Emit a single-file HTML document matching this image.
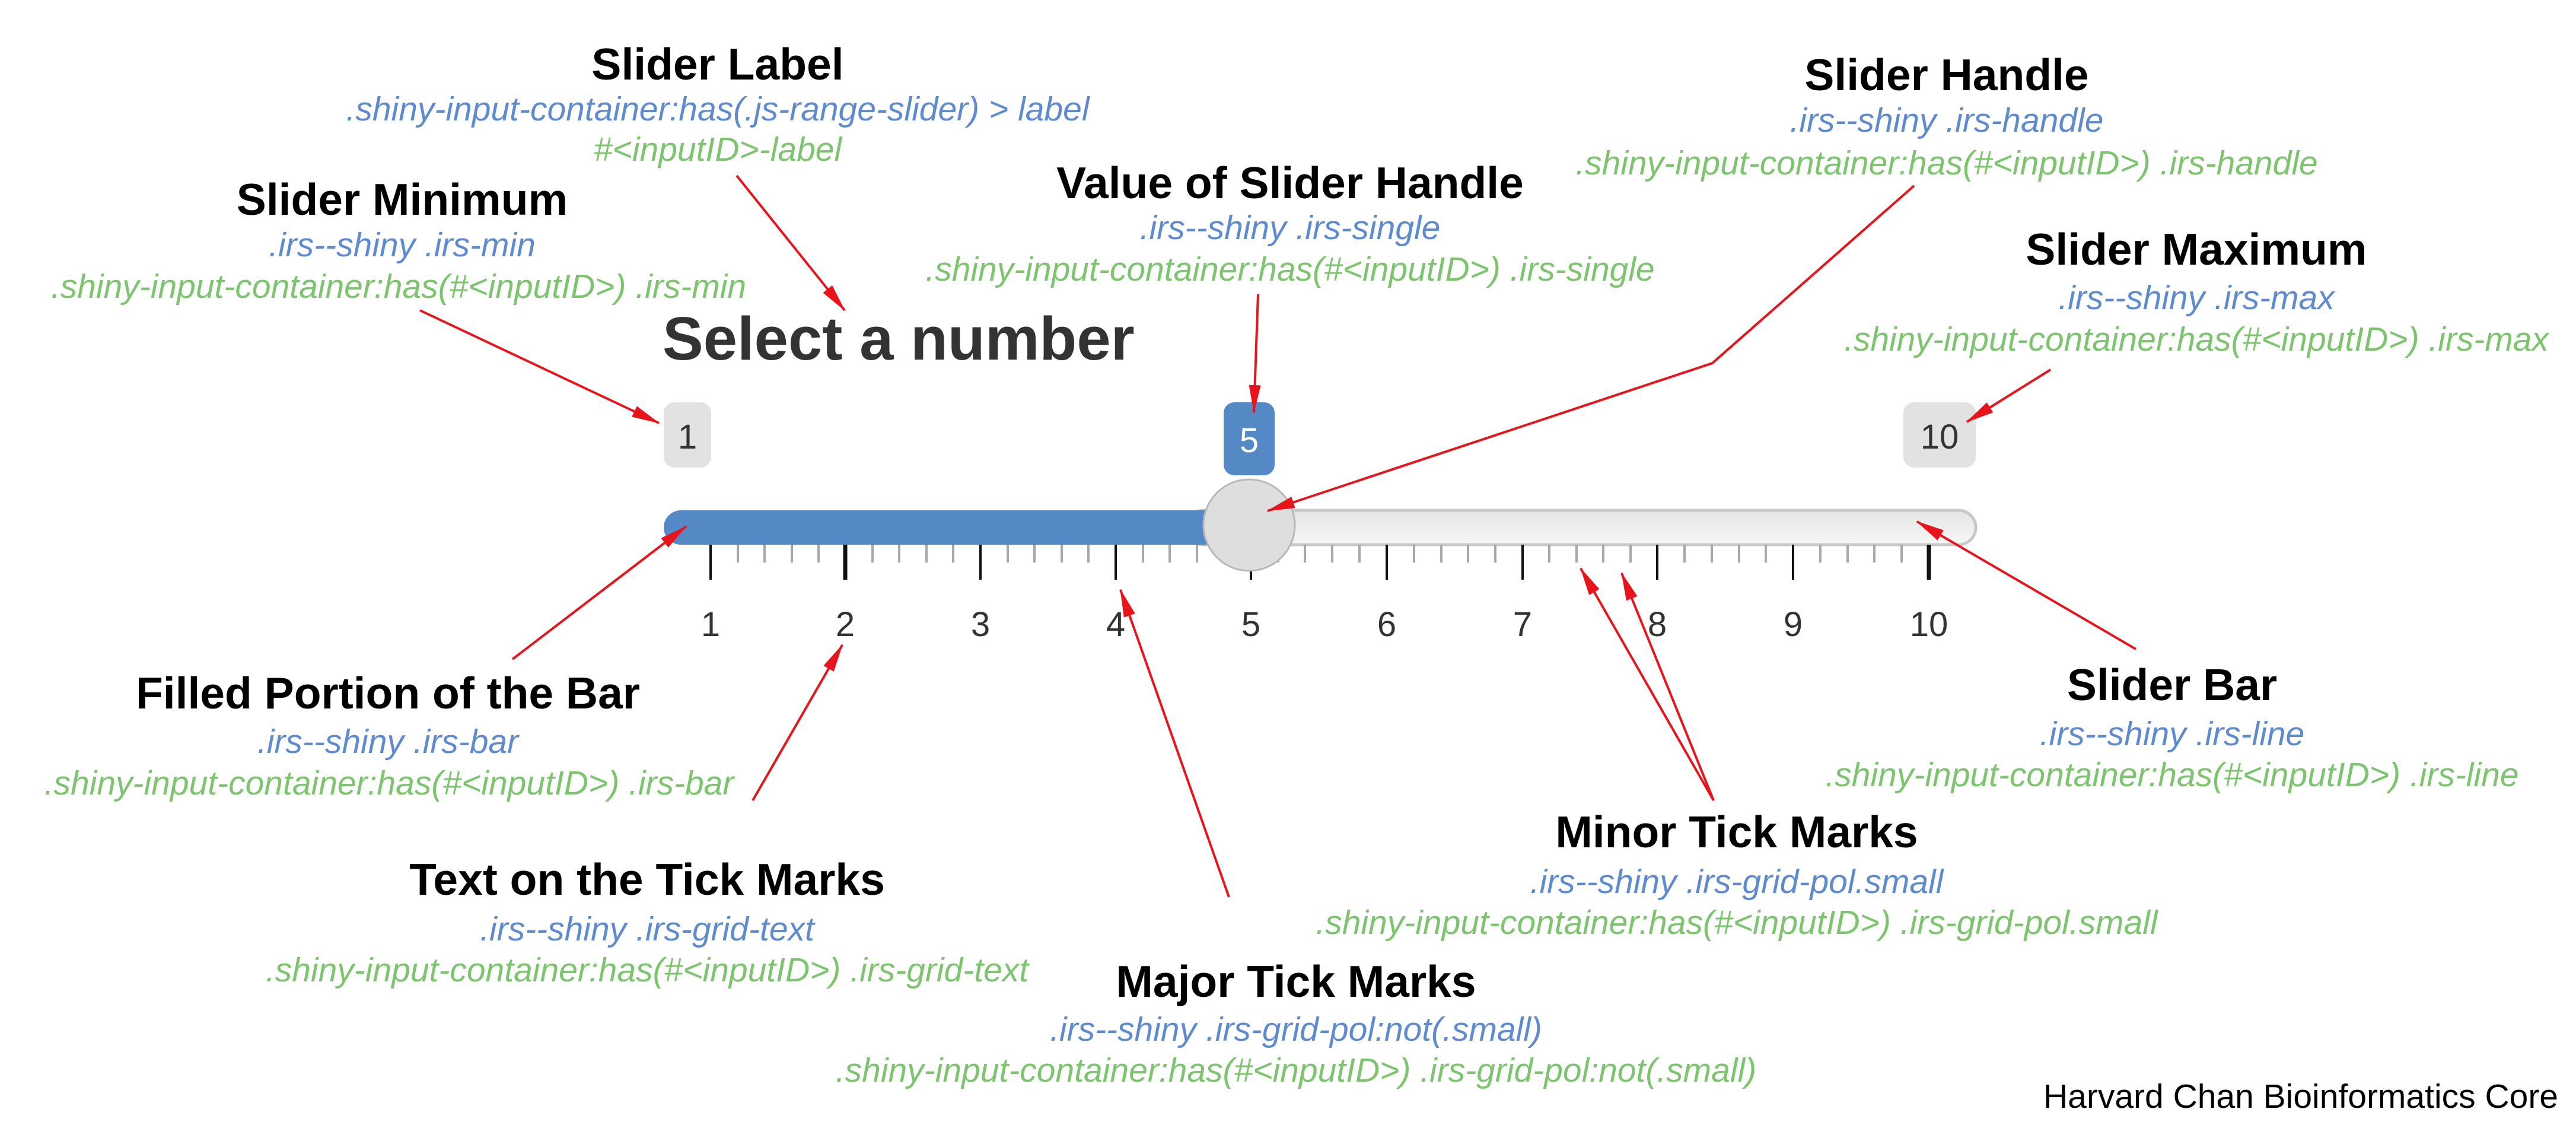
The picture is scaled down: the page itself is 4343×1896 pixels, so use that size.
<!DOCTYPE html>
<html><head><meta charset="utf-8"><style>
html,body{margin:0;padding:0;background:#fff;}
svg{display:block;}
.t{font-family:"Liberation Sans",Arial,sans-serif;font-weight:bold;font-size:75px;fill:#000;text-anchor:middle;}
.b{font-family:"Liberation Sans",Arial,sans-serif;font-style:italic;font-size:57px;fill:#5e8bcf;text-anchor:middle;}
.g{font-family:"Liberation Sans",Arial,sans-serif;font-style:italic;font-size:57px;fill:#7cc46d;text-anchor:middle;}
.n{font-family:"Liberation Sans",Arial,sans-serif;font-size:58px;fill:#333;text-anchor:middle;}
.a{stroke:#e8141c;stroke-width:4;fill:none;}
</style></head><body>
<svg width="4343" height="1896" viewBox="0 0 4343 1896" xmlns="http://www.w3.org/2000/svg">
<defs>
<marker id="ah" markerWidth="48" markerHeight="20" refX="46" refY="10" orient="auto" markerUnits="userSpaceOnUse">
<path d="M0,0 L48,10 L0,20 Z" fill="#e8141c"/>
</marker>
<linearGradient id="lg" x1="0" y1="0" x2="0" y2="1">
<stop offset="0" stop-color="#e4e4e4"/><stop offset="1" stop-color="#f7f7f7"/>
</linearGradient>
</defs>

<!-- Slider -->
<text x="1117" y="606" font-family="Liberation Sans,Arial,sans-serif" font-weight="bold" font-size="103" fill="#333">Select a number</text>

<rect x="1119" y="678" width="80" height="110" rx="18" fill="#e2e2e2"/>
<text class="n" x="1159" y="756">1</text>
<rect x="3209" y="678" width="122" height="110" rx="18" fill="#e2e2e2"/>
<text class="n" x="3270" y="756">10</text>
<rect x="2063" y="678" width="86" height="123" rx="18" fill="#5489c6"/>
<text class="n" x="2106" y="762" style="fill:#fff">5</text>

<rect x="2000" y="860" width="1331" height="58" rx="29" fill="url(#lg)" stroke="#c8c8c8" stroke-width="5"/>
<path d="M1148,860 L2040,860 L2040,918 L1148,918 A29,29 0 0 1 1148,860 Z" fill="#5489c6"/>

<!-- ticks -->
<g stroke="#a8a8a8" stroke-width="4">
<line x1="1244" y1="918" x2="1244" y2="948"/><line x1="1289" y1="918" x2="1289" y2="948"/><line x1="1335" y1="918" x2="1335" y2="948"/><line x1="1380" y1="918" x2="1380" y2="948"/>
<line x1="1471" y1="918" x2="1471" y2="948"/><line x1="1516" y1="918" x2="1516" y2="948"/><line x1="1562" y1="918" x2="1562" y2="948"/><line x1="1607" y1="918" x2="1607" y2="948"/>
<line x1="1699" y1="918" x2="1699" y2="948"/><line x1="1744" y1="918" x2="1744" y2="948"/><line x1="1790" y1="918" x2="1790" y2="948"/><line x1="1835" y1="918" x2="1835" y2="948"/>
<line x1="1927" y1="918" x2="1927" y2="948"/><line x1="1972" y1="918" x2="1972" y2="948"/><line x1="2018" y1="918" x2="2018" y2="948"/><line x1="2063" y1="918" x2="2063" y2="948"/>
<line x1="2155" y1="918" x2="2155" y2="948"/><line x1="2200" y1="918" x2="2200" y2="948"/><line x1="2246" y1="918" x2="2246" y2="948"/><line x1="2292" y1="918" x2="2292" y2="948"/>
<line x1="2384" y1="918" x2="2384" y2="948"/><line x1="2430" y1="918" x2="2430" y2="948"/><line x1="2475" y1="918" x2="2475" y2="948"/><line x1="2521" y1="918" x2="2521" y2="948"/>
<line x1="2612" y1="918" x2="2612" y2="948"/><line x1="2658" y1="918" x2="2658" y2="948"/><line x1="2703" y1="918" x2="2703" y2="948"/><line x1="2749" y1="918" x2="2749" y2="948"/>
<line x1="2840" y1="918" x2="2840" y2="948"/><line x1="2886" y1="918" x2="2886" y2="948"/><line x1="2932" y1="918" x2="2932" y2="948"/><line x1="2977" y1="918" x2="2977" y2="948"/>
<line x1="3069" y1="918" x2="3069" y2="948"/><line x1="3115" y1="918" x2="3115" y2="948"/><line x1="3160" y1="918" x2="3160" y2="948"/><line x1="3206" y1="918" x2="3206" y2="948"/>
</g>
<g stroke="#111" stroke-width="4">
<line x1="1198" y1="918" x2="1198" y2="977"/><line x1="1425" y1="918" x2="1425" y2="977" stroke-width="7"/><line x1="1653" y1="918" x2="1653" y2="977"/><line x1="1881" y1="918" x2="1881" y2="977"/><line x1="2109" y1="918" x2="2109" y2="977"/><line x1="2338" y1="918" x2="2338" y2="977"/><line x1="2567" y1="918" x2="2567" y2="977"/><line x1="2794" y1="918" x2="2794" y2="977"/><line x1="3023" y1="918" x2="3023" y2="977"/><line x1="3252" y1="918" x2="3252" y2="977" stroke-width="7"/>
</g>
<circle cx="2106" cy="885" r="77" fill="#dedede" stroke="#b8b8b8" stroke-width="3"/>

<g>
<text class="n" x="1198" y="1072">1</text><text class="n" x="1425" y="1072">2</text><text class="n" x="1653" y="1072">3</text><text class="n" x="1881" y="1072">4</text><text class="n" x="2109" y="1072">5</text><text class="n" x="2338" y="1072">6</text><text class="n" x="2567" y="1072">7</text><text class="n" x="2794" y="1072">8</text><text class="n" x="3023" y="1072">9</text><text class="n" x="3252" y="1072">10</text>
</g>

<!-- Labels -->
<text class="t" x="1210" y="134">Slider Label</text>
<text class="b" x="1210" y="203">.shiny-input-container:has(.js-range-slider) &gt; label</text>
<text class="g" x="1210" y="271">#&lt;inputID&gt;-label</text>

<text class="t" x="678" y="362">Slider Minimum</text>
<text class="b" x="678" y="432">.irs--shiny .irs-min</text>
<text class="g" x="672" y="502">.shiny-input-container:has(#&lt;inputID&gt;) .irs-min</text>

<text class="t" x="2175" y="334">Value of Slider Handle</text>
<text class="b" x="2175" y="403">.irs--shiny .irs-single</text>
<text class="g" x="2175" y="473">.shiny-input-container:has(#&lt;inputID&gt;) .irs-single</text>

<text class="t" x="3282" y="152">Slider Handle</text>
<text class="b" x="3282" y="222">.irs--shiny .irs-handle</text>
<text class="g" x="3282" y="294">.shiny-input-container:has(#&lt;inputID&gt;) .irs-handle</text>

<text class="t" x="3703" y="446">Slider Maximum</text>
<text class="b" x="3703" y="521">.irs--shiny .irs-max</text>
<text class="g" x="3703" y="591">.shiny-input-container:has(#&lt;inputID&gt;) .irs-max</text>

<text class="t" x="654" y="1194">Filled Portion of the Bar</text>
<text class="b" x="654" y="1269">.irs--shiny .irs-bar</text>
<text class="g" x="656" y="1339">.shiny-input-container:has(#&lt;inputID&gt;) .irs-bar</text>

<text class="t" x="1091" y="1508">Text on the Tick Marks</text>
<text class="b" x="1091" y="1585">.irs--shiny .irs-grid-text</text>
<text class="g" x="1091" y="1654">.shiny-input-container:has(#&lt;inputID&gt;) .irs-grid-text</text>

<text class="t" x="2185" y="1680">Major Tick Marks</text>
<text class="b" x="2185" y="1754">.irs--shiny .irs-grid-pol:not(.small)</text>
<text class="g" x="2185" y="1823">.shiny-input-container:has(#&lt;inputID&gt;) .irs-grid-pol:not(.small)</text>

<text class="t" x="2928" y="1428">Minor Tick Marks</text>
<text class="b" x="2928" y="1505">.irs--shiny .irs-grid-pol.small</text>
<text class="g" x="2928" y="1574">.shiny-input-container:has(#&lt;inputID&gt;) .irs-grid-pol.small</text>

<text class="t" x="3662" y="1180">Slider Bar</text>
<text class="b" x="3662" y="1256">.irs--shiny .irs-line</text>
<text class="g" x="3662" y="1325">.shiny-input-container:has(#&lt;inputID&gt;) .irs-line</text>

<text x="4313" y="1867" text-anchor="end" font-family="Liberation Sans,Arial,sans-serif" font-size="57" fill="#000">Harvard Chan Bioinformatics Core</text>

<!-- Arrows -->
<line class="a" x1="1242" y1="296" x2="1424" y2="523" marker-end="url(#ah)"/>
<line class="a" x1="708" y1="523" x2="1111" y2="713" marker-end="url(#ah)"/>
<line class="a" x1="2121" y1="496" x2="2114" y2="695" marker-end="url(#ah)"/>
<polyline class="a" points="3227,313 2887,612 2137,861" marker-end="url(#ah)"/>
<line class="a" x1="3457" y1="623" x2="3316" y2="711" marker-end="url(#ah)"/>
<line class="a" x1="864" y1="1111" x2="1157" y2="887" marker-end="url(#ah)"/>
<line class="a" x1="1269" y1="1349" x2="1420" y2="1087" marker-end="url(#ah)"/>
<line class="a" x1="2072" y1="1512" x2="1889" y2="994" marker-end="url(#ah)"/>
<line class="a" x1="2889" y1="1349" x2="2665" y2="958" marker-end="url(#ah)"/>
<line class="a" x1="2889" y1="1349" x2="2734" y2="966" marker-end="url(#ah)"/>
<line class="a" x1="3601" y1="1094" x2="3232" y2="879" marker-end="url(#ah)"/>
</svg>
</body></html>
